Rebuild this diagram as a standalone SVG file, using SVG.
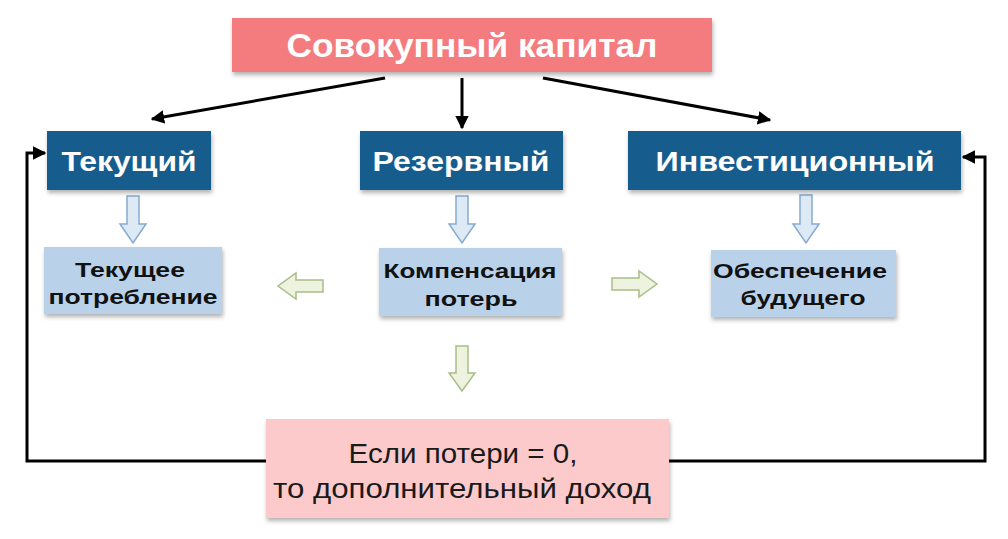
<svg xmlns="http://www.w3.org/2000/svg" width="1008" height="539" viewBox="0 0 1008 539">
<defs>
<style>
.top{fill:#f47b7e}
.blue{fill:#135d8e}
.lb{fill:#b9d2ea}
.pink{fill:#fccaca}
.wt{fill:#fff;font-family:"Liberation Sans",Arial,sans-serif;font-weight:bold;text-anchor:middle}
.bt{fill:#111;font-family:"Liberation Sans",Arial,sans-serif;font-weight:bold;font-size:21px;text-anchor:middle}
.nt{fill:#1a1a1a;font-family:"Liberation Sans Narrow","Liberation Sans",Arial,sans-serif;font-size:28px;text-anchor:middle}
.conn{stroke:#000;stroke-width:3;fill:none}
.barr{fill:#dde9f5;stroke:#86aad0;stroke-width:1.5}
.garr{fill:#eef3e0;stroke:#a9bd86;stroke-width:1.5}
</style>
<filter id="sh" x="-10%" y="-10%" width="120%" height="130%">
<feDropShadow dx="1" dy="3" stdDeviation="2" flood-color="#000" flood-opacity="0.3"/>
</filter>
<marker id="ah" viewBox="0 0 10 10" refX="9" refY="5" markerWidth="4.5" markerHeight="4.5" orient="auto">
<path d="M0,0 L10,5 L0,10 z" fill="#000"/>
</marker>
</defs>

<g id="connectors">
<line class="conn" x1="385" y1="78" x2="152" y2="119" marker-end="url(#ah)"/>
<line class="conn" x1="462" y1="78" x2="462" y2="128" marker-end="url(#ah)"/>
<line class="conn" x1="543" y1="78" x2="770" y2="120" marker-end="url(#ah)"/>
<polyline class="conn" points="266,461 27,461 27,153 45,153" marker-end="url(#ah)"/>
<polyline class="conn" points="669,461 985,461 985,157 963,157" marker-end="url(#ah)"/>
<path class="barr" d="M127,196 h12 v28 h7 l-13,19 l-13,-19 h7 z"/>
<path class="barr" d="M456,196 h12 v28 h7 l-13,19 l-13,-19 h7 z"/>
<path class="barr" d="M800,195 h12 v29 h7 l-13,19 l-13,-19 h7 z"/>
<path class="garr" d="M323,280 v12 h-27 v7 l-18,-13 l18,-13 v7 z"/>
<path class="garr" d="M612,278 v12 h27 v7 l18,-13 l-18,-13 v7 z"/>
<path class="garr" d="M456,346 h12 v27 h7 l-13,18 l-13,-18 h7 z"/>
</g>

<g id="total">
<rect class="top" x="232" y="18" width="480" height="54" filter="url(#sh)"/>
<text class="wt" x="472" y="57" font-size="33" textLength="371" lengthAdjust="spacingAndGlyphs">Совокупный капитал</text>
</g>

<g id="current">
<rect class="blue" x="47" y="131" width="164" height="59" filter="url(#sh)"/>
<text class="wt" x="129" y="171" font-size="27" textLength="135" lengthAdjust="spacingAndGlyphs">Текущий</text>
</g>
<g id="reserve">
<rect class="blue" x="360" y="131" width="203" height="59" filter="url(#sh)"/>
<text class="wt" x="461" y="171" font-size="27" textLength="177" lengthAdjust="spacingAndGlyphs">Резервный</text>
</g>
<g id="invest">
<rect class="blue" x="628" y="131" width="333" height="59" filter="url(#sh)"/>
<text class="wt" x="795" y="171" font-size="27" textLength="279" lengthAdjust="spacingAndGlyphs">Инвестиционный</text>
</g>

<g id="consumption">
<rect class="lb" x="44" y="247" width="178" height="67" filter="url(#sh)"/>
<text class="bt" x="130" y="277" textLength="110" lengthAdjust="spacingAndGlyphs">Текущее</text>
<text class="bt" x="133" y="304" textLength="169" lengthAdjust="spacingAndGlyphs">потребление</text>
</g>
<g id="compensation">
<rect class="lb" x="379" y="248" width="183" height="68" filter="url(#sh)"/>
<text class="bt" x="470" y="278" textLength="173" lengthAdjust="spacingAndGlyphs">Компенсация</text>
<text class="bt" x="471" y="306" textLength="93" lengthAdjust="spacingAndGlyphs">потерь</text>
</g>
<g id="future">
<rect class="lb" x="711" y="250" width="185" height="67" filter="url(#sh)"/>
<text class="bt" x="800" y="278" textLength="174" lengthAdjust="spacingAndGlyphs">Обеспечение</text>
<text class="bt" x="803" y="305" textLength="125" lengthAdjust="spacingAndGlyphs">будущего</text>
</g>

<g id="income">
<rect class="pink" x="266" y="419" width="403" height="99" filter="url(#sh)"/>
<text class="nt" x="463" y="463" textLength="229" lengthAdjust="spacingAndGlyphs">Если потери = 0,</text>
<text class="nt" x="462" y="498" textLength="378" lengthAdjust="spacingAndGlyphs">то дополнительный доход</text>
</g>
</svg>
